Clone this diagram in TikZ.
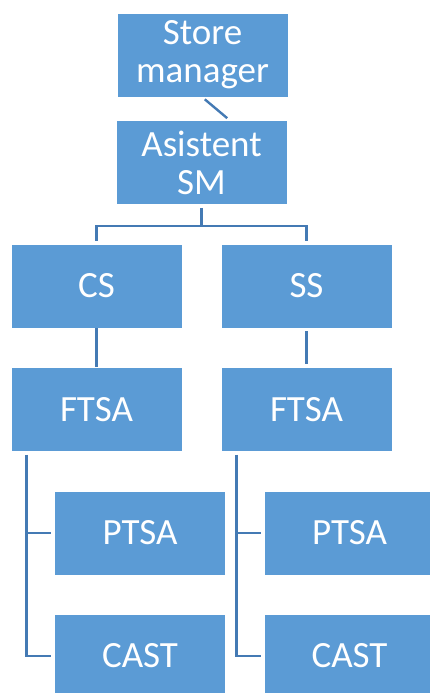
\documentclass[tikz,border=0pt]{standalone}
\usepackage{fontspec}
\setmainfont{Carlito}
\usepackage{tikz}
\definecolor{smfill}{RGB}{91,155,213}
\definecolor{smline}{RGB}{68,122,180}

\begin{document}
\begin{tikzpicture}[x=1pt,y=-1pt,
    post/.style={rectangle, fill=smfill, draw=white, line width=0.8pt, text=white,
                 minimum width=171pt, minimum height=84pt, inner sep=0pt, align=center,
                 font=\fontsize{37}{38}\selectfont},
    link/.style={draw=smline, line width=2.4pt, shorten <=3pt, shorten >=3pt}]
              \clip (0,0) rectangle (430,693);

              \node[post] (SM) at (202.5, 55) {Store\\manager};
              \node[post] (ASM) at (201.5, 162.5) {Asistent\\SM};
              \node[post] (CS) at (96.5, 286) {CS};
              \node[post] (SS) at (306.5, 286) {SS};
              \node[post] (FL) at (96.5, 409.5) {FTSA};
              \node[post] (FR) at (306.5, 409.5) {FTSA};
              \node[post] (PL) at (140, 533) {PTSA};
              \node[post] (PR) at (349.5, 533) {PTSA};
              \node[post] (CL) at (140, 656) {CAST};
              \node[post] (CR) at (349.5, 656) {CAST};

              \draw[link] (SM.south) -- ([xshift=28pt]ASM.north);
              \coordinate (fork) at ([yshift=-21pt]ASM.south);
              \draw[link, shorten >=0pt] (ASM.south) -- (fork);
              \draw[link, shorten <=0pt] (fork) -| (CS.north);
              \draw[link, shorten <=0pt] (fork) -| (SS.north);
              \draw[link] (CS) -- (FL) (SS) -- (FR);

              \coordinate (trunkL) at ([xshift=16pt]FL.south west);
              \coordinate (trunkR) at ([xshift=16pt]FR.south west);
              \draw[link] (trunkL) |- (PL.west);
              \draw[link] (trunkL) |- (CL.west);
              \draw[link] (trunkR) |- (PR.west);
              \draw[link] (trunkR) |- (CR.west);
            \end{tikzpicture}
\end{document}
